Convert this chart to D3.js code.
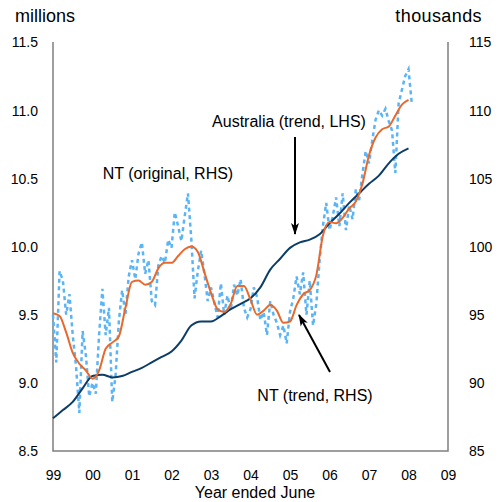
<!DOCTYPE html>
<html>
<head>
<meta charset="utf-8">
<script src="https://cdn.jsdelivr.net/npm/d3@7"></script>
<style>
  body { margin: 0; background: #fff; }
  svg text { font-family: "Liberation Sans", Arial, sans-serif; fill: #000; }
</style>
</head>
<body>
<div id="chart"></div>
<script>
// Australia trend, millions (LHS), quarterly from 1999.0
const ausStart = 1999;
const ausTrend = [8.74, 8.80, 8.86, 8.96, 9.05, 9.06, 9.04, 9.05, 9.08, 9.11, 9.15, 9.19,
  9.23, 9.31, 9.42, 9.45, 9.45, 9.49, 9.54, 9.58, 9.62, 9.70, 9.83, 9.91,
  9.99, 10.03, 10.05, 10.09, 10.17, 10.24, 10.32, 10.39, 10.46, 10.52, 10.61, 10.68,
  10.72];

// NT trend, thousands (RHS), every two months from 1999.0
const ntTrend = [95.1, 94.9, 93.7, 92.2, 91.4, 90.9, 90.3, 90.9, 92.5, 92.95, 93.4, 95.5,
  97.4, 97.5, 97.2, 97.4, 98.4, 98.8, 98.8, 99.3, 99.8, 100.0, 99.6, 98.1,
  96.6, 95.4, 95.2, 95.8, 97.1, 97.1, 96.1, 95.0, 95.3, 95.7, 95.3, 94.4,
  94.5, 95.7, 96.5, 96.8, 97.9, 100.8, 101.8, 101.7, 102.1, 102.8, 103.3, 104.6,
  106.7, 108.0, 108.6, 108.8, 109.6, 110.4, 110.75];

// NT original, thousands (RHS), monthly from 1999.0
const ntOriginal = [
  95.0, 91.5, 98.2, 97.5, 95.0, 96.5, 93.5, 91.2, 87.8, 93.8, 92.0, 89.0,
  90.0, 89.2, 93.5, 96.9, 93.5, 95.5, 88.6, 90.5, 94.5, 96.8, 95.0, 97.8,
  99.0, 97.6, 99.5, 100.3, 98.0, 99.0, 96.0, 95.7, 98.6, 99.3, 98.8, 100.5,
  99.9, 102.5, 101.5, 100.4, 102.2, 103.9, 100.6, 96.2, 98.2, 99.7, 98.0, 96.0,
  97.0, 95.9, 94.8, 97.3, 95.0, 96.4, 95.3, 97.2, 96.4, 97.6, 95.5, 94.8,
  95.4, 97.0, 96.3, 94.6, 95.2, 93.5, 96.0, 95.0, 94.4, 93.5, 94.2, 92.9,
  95.2, 96.2, 97.8, 96.5, 98.1, 95.0, 97.5, 94.2, 95.8, 99.0, 101.5, 103.2,
  101.2, 102.2, 103.6, 101.5, 103.9, 101.2, 103.0, 102.0, 104.2, 103.4, 105.3, 107.0,
  106.1, 107.8, 109.3, 110.0, 109.6, 110.1, 109.2, 108.5, 105.4, 110.5, 111.5, 112.5,
  113.0, 110.5];

const yearTicks = [1999, 2000, 2001, 2002, 2003, 2004, 2005, 2006, 2007, 2008, 2009];
const leftTicks = [8.5, 9.0, 9.5, 10.0, 10.5, 11.0, 11.5];
const rightTicks = [85, 90, 95, 100, 105, 110, 115];

const width = 501, height = 502;
const margin = { top: 42, right: 53, bottom: 51, left: 53 };

const svg = d3.select("#chart").append("svg")
  .attr("width", width).attr("height", height);

const xScale = d3.scaleLinear().domain([1999, 2009]).range([margin.left, width - margin.right]);
const yLeft = d3.scaleLinear().domain([8.5, 11.5]).range([height - margin.bottom, margin.top]);
const yRight = d3.scaleLinear().domain([85, 115]).range([height - margin.bottom, margin.top]);

// frame lines (left, bottom, right)
const axisColor = "#7f7f7f";
const x0 = xScale.range()[0], x1 = xScale.range()[1];
const yb = yLeft.range()[0], yt = yLeft.range()[1];
svg.append("path")
  .attr("d", `M${x0},${yt}V${yb}H${x1}V${yt}`)
  .attr("fill", "none").attr("stroke", axisColor).attr("stroke-width", 1.5);

// axes (labels only)
const leftAxis = svg.append("g").attr("transform", "translate(38,0)")
  .call(d3.axisLeft(yLeft).tickValues(leftTicks).tickSize(0).tickPadding(0).tickFormat(d3.format(".1f")));
leftAxis.select(".domain").remove();
leftAxis.selectAll("text").style("font-size", "14px").attr("dy", "0.35em");

const rightAxis = svg.append("g").attr("transform", "translate(469,0)")
  .call(d3.axisRight(yRight).tickValues(rightTicks).tickSize(0).tickPadding(0));
rightAxis.select(".domain").remove();
rightAxis.selectAll("text").style("font-size", "14px").attr("dy", "0.35em");

const bottomAxis = svg.append("g").attr("transform", `translate(0,${yb})`)
  .call(d3.axisBottom(xScale).tickValues(yearTicks).tickSize(0).tickPadding(19)
    .tickFormat(d => String(d % 100).padStart(2, "0")));
bottomAxis.select(".domain").remove();
bottomAxis.selectAll("text").style("font-size", "14px");

svg.append("text").attr("x", 255).attr("y", 498).attr("text-anchor", "middle")
  .style("font-size", "16px").text("Year ended June");
svg.append("text").attr("x", 15).attr("y", 22)
  .style("font-size", "18px").text("millions");
svg.append("text").attr("x", 482).attr("y", 22).attr("text-anchor", "end")
  .style("font-size", "18px").style("letter-spacing", "0.4px").text("thousands");

// series
const lineAus = d3.line()
  .x((d, i) => xScale(ausStart + i / 4)).y(d => yLeft(d)).curve(d3.curveMonotoneX);
const lineNtTrend = d3.line()
  .x((d, i) => xScale(1999 + i / 6)).y(d => yRight(d)).curve(d3.curveMonotoneX);
const lineNtOrig = d3.line()
  .x((d, i) => xScale(1999 + i / 12)).y(d => yRight(d));

svg.append("path").datum(ntOriginal).attr("d", lineNtOrig)
  .attr("fill", "none").attr("stroke", "#5ab4f5").attr("stroke-width", 2.5)
  .attr("stroke-dasharray", "4,3.5");

svg.append("path").datum(ausTrend).attr("d", lineAus)
  .attr("fill", "none").attr("stroke", "#0d3d66").attr("stroke-width", 2);

svg.append("path").datum(ntTrend).attr("d", lineNtTrend)
  .attr("fill", "none").attr("stroke", "#e8692b").attr("stroke-width", 2);

// annotations
svg.append("defs").append("marker")
  .attr("id", "arrow").attr("viewBox", "0 0 12 10")
  .attr("refX", 11).attr("refY", 5)
  .attr("markerWidth", 12).attr("markerHeight", 10)
  .attr("markerUnits", "userSpaceOnUse").attr("orient", "auto")
  .append("path").attr("d", "M0,1 L12,5 L0,9 L3,5 Z").attr("fill", "#000");

svg.append("line").attr("x1", 295).attr("y1", 137).attr("x2", 295).attr("y2", 234)
  .attr("stroke", "#000").attr("stroke-width", 2).attr("marker-end", "url(#arrow)");
svg.append("line").attr("x1", 330).attr("y1", 372).attr("x2", 299).attr("y2", 315)
  .attr("stroke", "#000").attr("stroke-width", 2).attr("marker-end", "url(#arrow)");

const annoFont = "16px";
svg.append("text").attr("x", 289).attr("y", 127).attr("text-anchor", "middle")
  .style("font-size", annoFont).text("Australia (trend, LHS)");
svg.append("text").attr("x", 168).attr("y", 179).attr("text-anchor", "middle")
  .style("font-size", annoFont).text("NT (original, RHS)");
svg.append("text").attr("x", 315).attr("y", 401).attr("text-anchor", "middle")
  .style("font-size", annoFont).text("NT (trend, RHS)");
</script>
</body>
</html>
